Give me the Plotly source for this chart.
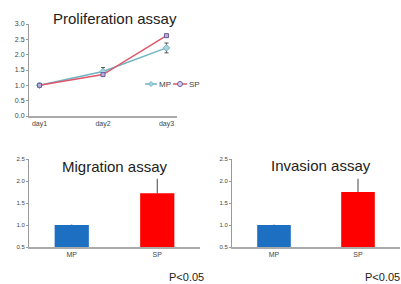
import plotly.graph_objects as go

days = ["day1", "day2", "day3"]
mp_prolif = [1.0, 1.45, 2.22]
mp_prolif_err = [0.02, 0.13, 0.16]
sp_prolif = [1.0, 1.35, 2.62]
sp_prolif_err = [0.02, 0.03, 0.04]

groups = ["MP", "SP"]
migration = [1.0, 1.72]
migration_err = [0.01, 0.33]
invasion = [1.0, 1.75]
invasion_err = [0.01, 0.30]

W, H = 401, 284
def px(x):
    return x / W
def py(y):
    return (H - y) / H

MP_LINE = "#6fb3c2"
SP_LINE = "#e0566a"
SP_MARK = "#6a5a9a"

fig = go.Figure()

fig.add_trace(go.Scatter(
    x=days, y=mp_prolif, name="MP", mode="lines+markers",
    line=dict(color=MP_LINE, width=1.5),
    marker=dict(symbol="diamond", size=5, color="#a9d4e0", line=dict(color=MP_LINE, width=1)),
    error_y=dict(type="data", array=mp_prolif_err, color="#555", thickness=1, width=2),
    showlegend=False, xaxis="x", yaxis="y"))
fig.add_trace(go.Scatter(
    x=days, y=sp_prolif, name="SP", mode="lines+markers",
    line=dict(color=SP_LINE, width=1.5),
    marker=dict(symbol="square", size=4, color="#b9b0d8", line=dict(color=SP_MARK, width=1)),
    error_y=dict(type="data", array=sp_prolif_err, color="#555", thickness=1, width=2),
    showlegend=False, xaxis="x", yaxis="y"))

fig.add_trace(go.Bar(
    x=groups, y=migration, marker=dict(color=["#1c6fc1", "#ff0000"], line=dict(width=0)),
    error_y=dict(type="data", array=migration_err, arrayminus=[0, 0], color="#444", thickness=1, width=0),
    showlegend=False, xaxis="x2", yaxis="y2"))
fig.add_trace(go.Bar(
    x=groups, y=invasion, marker=dict(color=["#1c6fc1", "#ff0000"], line=dict(width=0)),
    error_y=dict(type="data", array=invasion_err, arrayminus=[0, 0], color="#444", thickness=1, width=0),
    showlegend=False, xaxis="x3", yaxis="y3"))

FONT = "Liberation Sans, Arial"
yax = dict(showgrid=False, zeroline=False, showline=True, linecolor="#999", linewidth=1,
           ticks="outside", ticklen=2, tickcolor="#999", tickformat=".1f", automargin=False)
xax = dict(showgrid=False, zeroline=False, showline=True, linecolor="#aaa", linewidth=1.5,
           ticks="", automargin=False)

fig.update_layout(
    width=W, height=H, margin=dict(l=0, r=0, t=0, b=0),
    paper_bgcolor="white", plot_bgcolor="white",
    bargap=0.6, showlegend=False, hovermode=False,
    xaxis=dict(xax, domain=[px(29), px(177)], anchor="y", linewidth=2,
               tickfont=dict(family=FONT, size=7, color="#444")),
    yaxis=dict(yax, domain=[py(116), py(24)], anchor="x", range=[0, 3], dtick=0.5,
               tickfont=dict(family=FONT, size=7, color="#444")),
    xaxis2=dict(xax, domain=[px(29), px(200)], anchor="y2",
                tickfont=dict(family=FONT, size=7, color="#444")),
    yaxis2=dict(yax, domain=[py(247), py(159)], anchor="x2", range=[0.5, 2.5], dtick=0.5,
                tickfont=dict(family=FONT, size=6, color="#444")),
    xaxis3=dict(xax, domain=[px(232), px(400)], anchor="y3",
                tickfont=dict(family=FONT, size=7, color="#444")),
    yaxis3=dict(yax, domain=[py(247), py(159)], anchor="x3", range=[0.5, 2.5], dtick=0.5,
                tickfont=dict(family=FONT, size=6, color="#444")),
)

# compact legend (decoration)
ly = py(84)
fig.add_shape(type="line", xref="paper", yref="paper", x0=px(145), x1=px(157), y0=ly, y1=ly,
              line=dict(color=MP_LINE, width=1.5))
fig.add_shape(type="path", xref="paper", yref="paper",
              path=f"M {px(148.5)} {ly} L {px(151)} {py(81.5)} L {px(153.5)} {ly} L {px(151)} {py(86.5)} Z",
              line=dict(color=MP_LINE, width=1), fillcolor="#a9d4e0")
fig.add_annotation(text="MP", x=px(158), y=ly, xref="paper", yref="paper", showarrow=False,
                   xanchor="left", yanchor="middle", borderpad=0,
                   font=dict(family=FONT, size=8, color="#444"))
fig.add_shape(type="line", xref="paper", yref="paper", x0=px(173), x1=px(187), y0=ly, y1=ly,
              line=dict(color=SP_LINE, width=1.5))
fig.add_shape(type="circle", xref="paper", yref="paper", x0=px(177.5), x1=px(182.5),
              y0=py(86.5), y1=py(81.5), line=dict(color=SP_MARK, width=1), fillcolor="#d8d2ec")
fig.add_annotation(text="SP", x=px(188), y=ly, xref="paper", yref="paper", showarrow=False,
                   xanchor="left", yanchor="middle", borderpad=0,
                   font=dict(family=FONT, size=8, color="#444"))

titlefont = dict(family=FONT, size=15, color="#222")
fig.add_annotation(text="Proliferation assay", x=px(115), y=py(18), xref="paper", yref="paper",
                   showarrow=False, font=titlefont, xanchor="center", yanchor="middle")
fig.add_annotation(text="Migration assay", x=px(115), y=py(166), xref="paper", yref="paper",
                   showarrow=False, font=titlefont, xanchor="center", yanchor="middle")
fig.add_annotation(text="Invasion assay", x=px(321), y=py(165), xref="paper", yref="paper",
                   showarrow=False, font=titlefont, xanchor="center", yanchor="middle")
pfont = dict(family=FONT, size=11, color="#222")
fig.add_annotation(text="P<0.05", x=px(205), y=py(277), xref="paper", yref="paper", borderpad=0,
                   showarrow=False, font=pfont, xanchor="right", yanchor="middle")
fig.add_annotation(text="P<0.05", x=px(400.5), y=py(277), xref="paper", yref="paper", borderpad=0,
                   showarrow=False, font=pfont, xanchor="right", yanchor="middle")

fig.write_html("out.html", config={"displayModeBar": False, "staticPlot": True},
               post_script="document.body.style.margin='0px';document.body.style.overflow='hidden';")
